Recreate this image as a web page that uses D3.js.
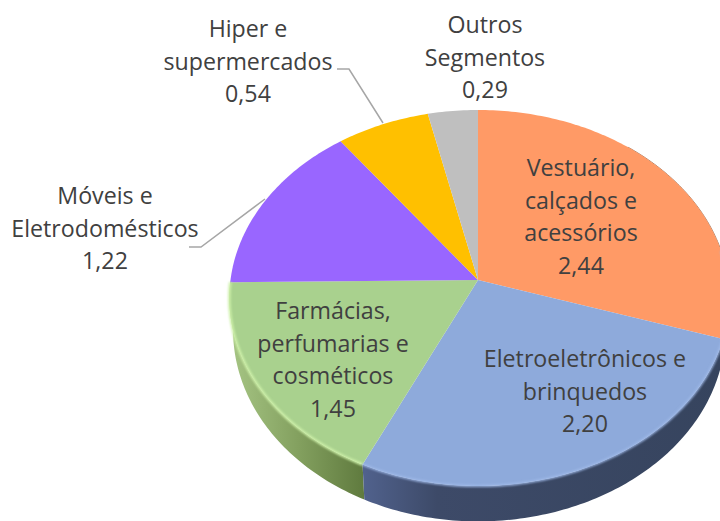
<!DOCTYPE html>
<html>
<head>
<meta charset="utf-8">
<script src="https://cdn.jsdelivr.net/npm/d3@7"></script>
<style>
  html, body { margin: 0; padding: 0; background: #fff; }
  svg { display: block; }
  text { font-family: "Open Sans", sans-serif; font-size: 23.2px; fill: #404040; text-anchor: middle; }
</style>
</head>
<body>
<svg width="720" height="521"></svg>
<script>
const categories = [
    ["Vestuário,", "calçados e", "acessórios"],
    ["Eletroeletrônicos e", "brinquedos"],
    ["Farmácias,", "perfumarias e", "cosméticos"],
    ["Móveis e", "Eletrodomésticos"],
    ["Hiper e", "supermercados"],
    ["Outros", "Segmentos"]
];
const values = [2.44, 2.20, 1.45, 1.22, 0.54, 0.29];
const colors = ["#ff9a66", "#8eaadb", "#a9d18e", "#9966ff", "#ffc000", "#bfbfbf"];

// label layout: centre x and baseline of the first line
const labelAnchors = [[581, 176], [585, 367], [333, 319], [105, 204], [248, 37], [485, 33]];
const lineHeight = 32.6;

// leader lines for the two labels that sit outside the pie
const leaders = [
    [[189, 247], [201, 247], [265, 199]],
    [[337, 69], [349, 69], [383, 123]]
];

const svg = d3.select("svg");
const defs = svg.append("defs");

const cx = 478, cy = 280, rxLeft = 247.5, rxRight = 250, a = 186.3, k = 0.0957, depth = 32;

// perspective projection of a point on the pie's unit circle, angle clockwise from the top
function project(t, drop = 0) {
    const u = Math.sin(t), v = -Math.cos(t), w = 1 / (1 - k * v);
    const rx = (u < 0 ? rxLeft : rxRight) * (drop ? 0.985 : 1);
    return [cx + rx * u * w, cy + a * v * w + drop * w];
}

const pie = d3.pie().sort(null).value(d => d);
const arcs = pie(values);
const line = d3.line();
const fmt = d3.format(".2f");

function rim(t0, t1, drop = 0) {
    const n = Math.max(2, Math.ceil(Math.abs(t1 - t0) * 60));
    return d3.range(n + 1).map(i => project(t0 + (t1 - t0) * i / n, drop));
}

function addGradient(id, x1, x2, stops) {
    const g = defs.append("linearGradient").attr("id", id)
        .attr("gradientUnits", "userSpaceOnUse")
        .attr("x1", x1).attr("x2", x2).attr("y1", 0).attr("y2", 0);
    stops.forEach(s => g.append("stop").attr("offset", s[0]).attr("stop-color", s[1]));
}
addGradient("sideGreen", 232, 365, [[0, "#a5c483"], [0.5, "#83a05f"], [1, "#5f7a3e"]]);
addGradient("sideBlue", 365, 725, [[0, "#50618c"], [0.2, "#3d4a68"], [1, "#36445e"]]);

defs.append("filter").attr("id", "soft").append("feGaussianBlur").attr("stdDeviation", 0.9);

// side walls, only the front half of the pie shows one
const sides = [
    {t0: arcs[2].startAngle, t1: 1.5 * Math.PI, fill: "url(#sideGreen)"},
    {t0: arcs[1].startAngle - 0.47, t1: arcs[1].endAngle, fill: "url(#sideBlue)"}
];
sides.forEach(s => {
    svg.append("path")
        .attr("d", line(rim(s.t0, s.t1).concat(rim(s.t1, s.t0, depth))) + "Z")
        .attr("fill", s.fill);
});

// thin dark edge showing behind the orange slice on the right
svg.append("path")
    .attr("d", line(rim(arcs[0].startAngle + 0.7, arcs[0].endAngle)))
    .attr("fill", "none")
    .attr("stroke", "#a5806a")
    .attr("stroke-width", 1);

// top face
svg.selectAll(".slice").data(arcs).join("path")
    .attr("class", "slice")
    .attr("d", d => line([[cx, cy]].concat(rim(d.startAngle, d.endAngle))) + "Z")
    .attr("fill", (d, i) => colors[i]);

// bevel highlight along the front of the rim
svg.append("path")
    .attr("d", line(rim(arcs[2].startAngle, arcs[2].endAngle)))
    .attr("fill", "none")
    .attr("stroke", "#cdf0a8")
    .attr("stroke-width", 2.6)
    .attr("filter", "url(#soft)");
svg.append("path")
    .attr("d", line(rim(arcs[1].startAngle - 0.47, arcs[1].endAngle)))
    .attr("fill", "none")
    .attr("stroke", "#9fb9e8")
    .attr("stroke-width", 2.2)
    .attr("filter", "url(#soft)");

svg.selectAll(".leader").data(leaders).join("path")
    .attr("class", "leader")
    .attr("d", d => line(d))
    .attr("fill", "none")
    .attr("stroke", "#a6a6a6")
    .attr("stroke-width", 1.5);

categories.forEach((lines, i) => {
    const [x, y] = labelAnchors[i];
    lines.concat(fmt(values[i]).replace(".", ",")).forEach((t, j) => {
        svg.append("text").attr("x", x).attr("y", y + j * lineHeight).text(t);
    });
});
</script>
</body>
</html>
